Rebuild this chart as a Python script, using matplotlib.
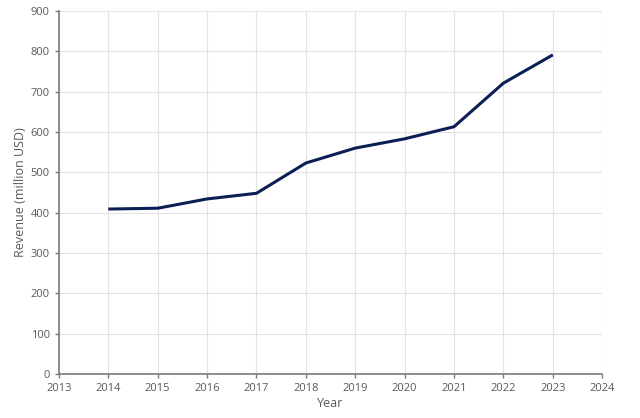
import matplotlib
matplotlib.use("Agg")
import matplotlib.pyplot as plt

years = [2014, 2015, 2016, 2017, 2018, 2019, 2020, 2021, 2022, 2023]
revenue = [409, 411, 434, 448, 523, 560, 583, 613, 721, 791]
x_ticks = list(range(2013, 2025))
y_ticks = list(range(0, 901, 100))

plt.rcParams["font.family"] = ["Open Sans", "DejaVu Sans"]

fig = plt.figure(figsize=(6.4, 4.18), dpi=100)
ax = fig.add_axes([0.092, 0.105, 0.849, 0.869])

ax.plot(years, revenue, color="#0c1f55", linewidth=2.2, solid_capstyle="butt")

ax.set_xlim(2013, 2024)
ax.set_ylim(0, 900)
ax.set_xticks(x_ticks)
ax.set_yticks(y_ticks)
ax.grid(color="#e3e3e3", linewidth=0.8)
ax.set_axisbelow(True)

for side in ("top", "right"):
    ax.spines[side].set_visible(False)
for side in ("left", "bottom"):
    ax.spines[side].set_color("#7a7a7a")
    ax.spines[side].set_linewidth(1.2)

ax.tick_params(axis="both", colors="#7a7a7a", labelcolor="#595959", labelsize=8, length=3, width=1)
ax.set_xlabel("Year", fontsize=9, color="#595959", labelpad=2)
ax.set_ylabel("Revenue (million USD)", fontsize=9, color="#595959", labelpad=3)

fig.savefig("out.png", dpi=100)
